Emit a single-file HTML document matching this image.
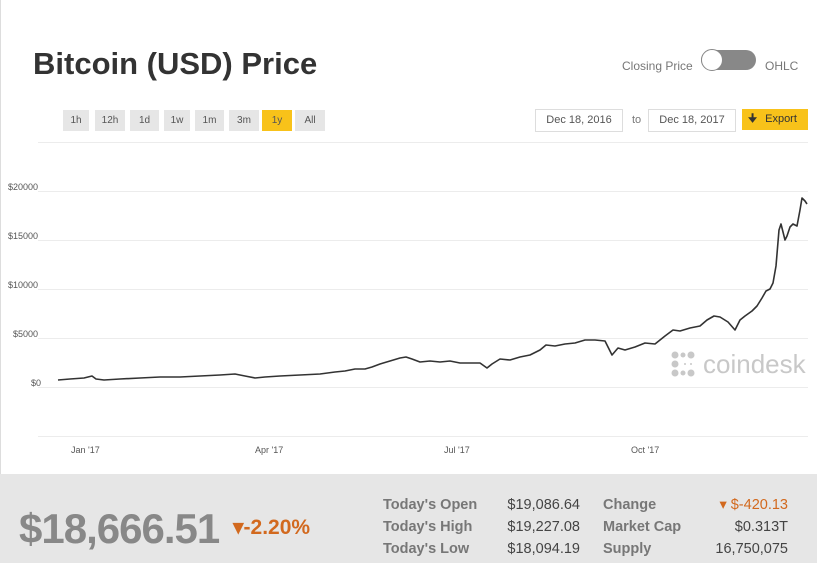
<!DOCTYPE html>
<html><head><meta charset="utf-8"><style>
body{margin:0;width:817px;height:563px;background:#fff;font-family:"Liberation Sans",sans-serif;position:relative;overflow:hidden}
.a{position:absolute;white-space:nowrap}
.btn{position:absolute;top:110px;height:21px;background:#e6e6e6;color:#555;font-size:10px;line-height:21px;text-align:center}
.date{position:absolute;top:109px;height:21px;border:1px solid #ddd;font-size:11px;color:#555;line-height:21px;text-align:center;background:#fff}
.lbl{position:absolute;font-size:14.5px;color:#777;font-weight:bold}
.val{position:absolute;font-size:14.5px;color:#444;text-align:right}
</style></head><body>
<div style="position:absolute;left:0;top:0;width:1px;height:475px;background:#ddd"></div>
<div class="a" style="left:33px;top:46px;font-size:31px;font-weight:bold;color:#333">Bitcoin (USD) Price</div>
<div class="a" style="left:622px;top:59px;font-size:12px;color:#777">Closing Price</div>
<div style="position:absolute;left:701px;top:50px;width:55px;height:20px;border-radius:10px;background:#888"></div>
<div style="position:absolute;left:701px;top:49px;width:20px;height:20px;border-radius:11px;background:#fff;border:1px solid #888"></div>
<div class="a" style="left:765px;top:59px;font-size:12px;color:#777">OHLC</div>
<div class="btn" style="left:63px;width:26px">1h</div>
<div class="btn" style="left:95px;width:30px">12h</div>
<div class="btn" style="left:130px;width:29px">1d</div>
<div class="btn" style="left:164px;width:26px">1w</div>
<div class="btn" style="left:195px;width:29px">1m</div>
<div class="btn" style="left:229px;width:30px">3m</div>
<div class="btn" style="left:262px;width:30px;background:#f8c21a">1y</div>
<div class="btn" style="left:295px;width:30px">All</div>
<div class="date" style="left:535px;width:86px">Dec 18, 2016</div>
<div class="a" style="left:632px;top:114px;font-size:11px;color:#777">to</div>
<div class="date" style="left:648px;width:86px">Dec 18, 2017</div>
<div style="position:absolute;left:742px;top:109px;width:66px;height:21px;background:#f8c21a;font-size:11px;color:#333;line-height:20px"><span style="margin-left:6px;font-weight:bold">&#129035;</span><span style="margin-left:8px">Export</span></div>
<svg style="position:absolute;left:0;top:0" width="817" height="475">
<g stroke="#ececec" stroke-width="1">
<line x1="38" x2="808" y1="142.5" y2="142.5"/><line x1="38" x2="808" y1="191.5" y2="191.5"/><line x1="38" x2="808" y1="240.5" y2="240.5"/><line x1="38" x2="808" y1="289.5" y2="289.5"/><line x1="38" x2="808" y1="338.5" y2="338.5"/><line x1="38" x2="808" y1="387.5" y2="387.5"/><line x1="38" x2="808" y1="436.5" y2="436.5"/>
</g>
<g font-size="9" fill="#555" font-family="Liberation Sans">
<text x="8" y="190">$20000</text><text x="8" y="239">$15000</text><text x="8" y="288">$10000</text><text x="13" y="337">$5000</text><text x="31" y="386">$0</text>
<text x="71" y="453">Jan '17</text><text x="255" y="453">Apr '17</text><text x="444" y="453">Jul '17</text><text x="631" y="453">Oct '17</text>
</g>
<g fill="#c8c8c8"><circle cx="675" cy="355" r="3.5"/><circle cx="683" cy="355" r="2.5"/><circle cx="691" cy="355" r="3.5"/><circle cx="675" cy="364" r="3.5"/><circle cx="675" cy="373" r="3.5"/><circle cx="683" cy="373" r="2.5"/><circle cx="691" cy="373" r="3.5"/><circle cx="685" cy="364" r="1"/><circle cx="691" cy="364" r="1"/></g>
<text x="703" y="373" font-size="26" fill="#c8c8c8" font-family="Liberation Sans">coindesk</text>
<polyline fill="none" stroke="#333" stroke-width="1.6" stroke-linejoin="round" points="58,380 70,379 84,378 92,376 96,379 104,380 120,379 140,378 160,377 180,377 200,376 220,375 235,374 245,376 255,378 265,377 280,376 300,375 320,374 335,372 345,371 355,369 365,369 372,367 380,364 390,361 400,358 406,357 412,359 420,362 430,361 440,362 450,361 460,363 470,363 480,363 487,368 492,364 500,359 510,360 520,357 530,355 540,350 546,345 555,346 565,344 575,343 585,340 595,340 605,341 612,355 618,348 625,350 635,347 645,343 655,344 665,336 673,330 680,331 690,328 700,326 707,320 714,316 720,317 728,322 735,330 740,320 745,316 752,311 757,306 762,298 766,291 770,289 773,283 776,266 779,230 781,224 785,240 787,236 790,227 793,224 797,226 800,210 802,198 805,201 807,204"/>
</svg>
<div style="position:absolute;left:0;top:474px;width:817px;height:89px;background:#e6e6e6"></div>
<div class="a" style="left:19px;top:505px;font-size:42px;font-weight:bold;color:#888;letter-spacing:-1px">$18,666.51</div>
<div class="a" style="left:233px;top:515px;font-size:21px;font-weight:bold;color:#d2691e">▾-2.20%</div>
<div class="lbl" style="left:383px;top:497px">Today's Open</div>
<div class="lbl" style="left:383px;top:519px">Today's High</div>
<div class="lbl" style="left:383px;top:541px">Today's Low</div>
<div class="val" style="left:490px;width:90px;top:497px">$19,086.64</div>
<div class="val" style="left:490px;width:90px;top:519px">$19,227.08</div>
<div class="val" style="left:490px;width:90px;top:541px">$18,094.19</div>
<div class="lbl" style="left:603px;top:497px">Change</div>
<div class="lbl" style="left:603px;top:519px">Market Cap</div>
<div class="lbl" style="left:603px;top:541px">Supply</div>
<div class="val" style="left:700px;width:88px;top:497px;color:#d2691e">▾ $-420.13</div>
<div class="val" style="left:700px;width:88px;top:519px">$0.313T</div>
<div class="val" style="left:700px;width:88px;top:541px">16,750,075</div>
</body></html>
